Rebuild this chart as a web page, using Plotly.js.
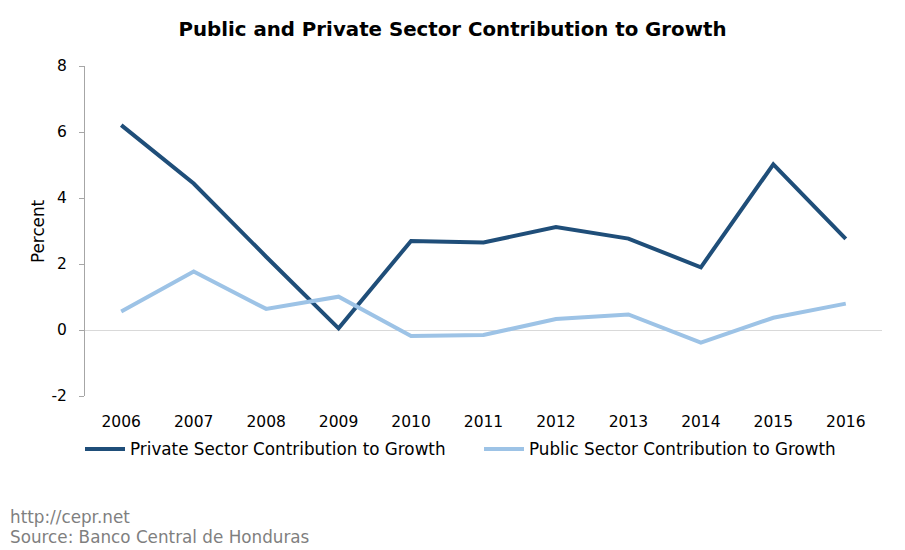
<!DOCTYPE html>
<html>
<head>
<meta charset="utf-8">
<script src="https://cdn.plot.ly/plotly-3.0.1.min.js"></script>
<style>html,body{margin:0;padding:0;background:#fff;}#chart{width:905px;height:550px;}</style>
</head>
<body>
<div id="chart"></div>
<script>
const years = ["2006","2007","2008","2009","2010","2011","2012","2013","2014","2015","2016"];
const privateSector = [6.21, 4.44, 2.22, 0.05, 2.70, 2.65, 3.12, 2.77, 1.90, 5.02, 2.76];
const publicSector = [0.56, 1.77, 0.64, 1.01, -0.18, -0.15, 0.33, 0.47, -0.38, 0.37, 0.80];
const yTicks = [-2, 0, 2, 4, 6, 8];
const yTickLabels = ["-2", "0", "2", "4", "6", "8"];

const font = "DejaVu Sans, Verdana, sans-serif";
const fs = 16.8;
const tfs = 15.5;

const traces = [
  {x: years, y: privateSector, type: "scatter", mode: "lines", name: "Private Sector Contribution to Growth",
   line: {color: "#1F4E79", width: 4}},
  {x: years, y: publicSector, type: "scatter", mode: "lines", name: "Public Sector Contribution to Growth",
   line: {color: "#9DC3E6", width: 4}}
];

const layout = {
  width: 905, height: 550,
  margin: {l: 85, r: 23, t: 66, b: 154, autoexpand: false},
  paper_bgcolor: "#fff", plot_bgcolor: "#fff",
  font: {family: font, size: fs, color: "#000"},
  title: {text: "<b>Public and Private Sector Contribution to Growth</b>", font: {family: font, size: 19.8, color: "#000"},
          x: 0.5, xref: "container", y: 1 - 29/550, yref: "container", yanchor: "middle"},
  xaxis: {type: "category", range: [-0.5, 10.5], showgrid: false, zeroline: false, showline: false, ticks: "", tickangle: 0,
          automargin: false, ticklabelstandoff: 14, tickfont: {family: font, size: tfs, color: "#000"}, fixedrange: true},
  yaxis: {range: [-2, 8], tickvals: yTicks, ticktext: yTickLabels, showgrid: false, zeroline: true, zerolinecolor: "#d9d9d9", zerolinewidth: 1,
          showline: true, linecolor: "#a6a6a6", linewidth: 1, ticks: "outside", ticklen: 5, tickcolor: "#a6a6a6",
          automargin: false, ticklabelstandoff: 9, tickfont: {family: font, size: tfs, color: "#000"}},
  showlegend: true,
  legend: {orientation: "h", xref: "container", x: 80/905, xanchor: "left", y: -53/330, yanchor: "middle",
           bgcolor: "rgba(0,0,0,0)",
           font: {family: font, size: fs, color: "#000"}, itemwidth: 40, entrywidth: 344, traceorder: "normal"},
  annotations: [
    {text: "Percent", textangle: -90, xref: "paper", yref: "paper", x: (38 - 85)/797, y: 0.5, xanchor: "center", yanchor: "middle",
     showarrow: false, font: {family: font, size: fs, color: "#000"}},
    {text: "http://cepr.net", xref: "paper", yref: "paper", x: -77/797, y: (396-517)/330, xanchor: "left", yanchor: "middle",
     showarrow: false, font: {family: font, size: fs, color: "#7f7f7f"}},
    {text: "Source: Banco Central de Honduras", xref: "paper", yref: "paper", x: -77/797, y: (396-537)/330, xanchor: "left", yanchor: "middle",
     showarrow: false, font: {family: font, size: fs, color: "#7f7f7f"}}
  ]
};

Plotly.newPlot("chart", traces, layout, {displayModeBar: false, staticPlot: true});
</script>
</body>
</html>
